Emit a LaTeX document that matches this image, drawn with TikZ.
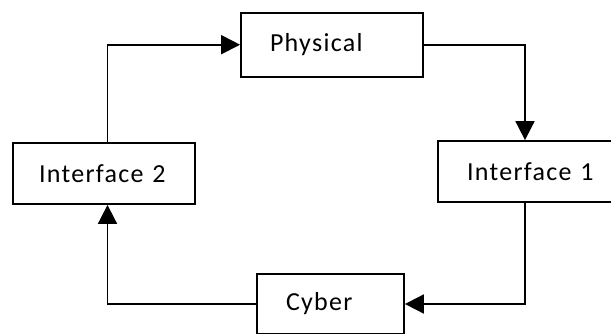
\documentclass[tikz,border=0pt]{standalone}
\usepackage{fontspec}
\setmainfont[LetterSpace=5]{Carlito}
\usetikzlibrary{arrows.meta}
\tikzset{
    block/.style={draw,line width=1.8pt,rectangle,inner xsep=29pt,inner ysep=0pt,
        align=left,font=\fontsize{26}{29}\selectfont},
    flow/.style={line width=1.8pt,-{Triangle[length=19pt,width=19pt]}}
}
\begin{document}
\begin{tikzpicture}[x=1pt,y=-1pt]
        \useasboundingbox (0,0) rectangle (611,333);
        \clip (0,0) rectangle (611,333);
        %% Blocks
        \node[block,minimum width=182pt,minimum height=64pt,text width=124pt] (phys) at (332,44.7) {Physical};
        \node[block,minimum width=194pt,minimum height=61pt,text width=136pt] (if1) at (535,171.5) {Interface 1};
        \node[block,inner xsep=26pt,minimum width=182pt,minimum height=61pt,text width=130pt] (if2) at (104,173.5) {Interface 2};
        \node[block,minimum width=147pt,minimum height=60pt,text width=89pt] (cyb) at (330.5,304) {Cyber};
        %% Loop
        \draw[flow] (phys.east) -| ([xshift=-10pt]if1.north);
        \draw[flow] ([xshift=-10pt]if1.south) |- (cyb.east);
        \draw[flow] (cyb.west) -| ([xshift=3.5pt]if2.south);
        \draw[flow] ([xshift=3.5pt]if2.north) |- (phys.west);
    \end{tikzpicture}
\end{document}
